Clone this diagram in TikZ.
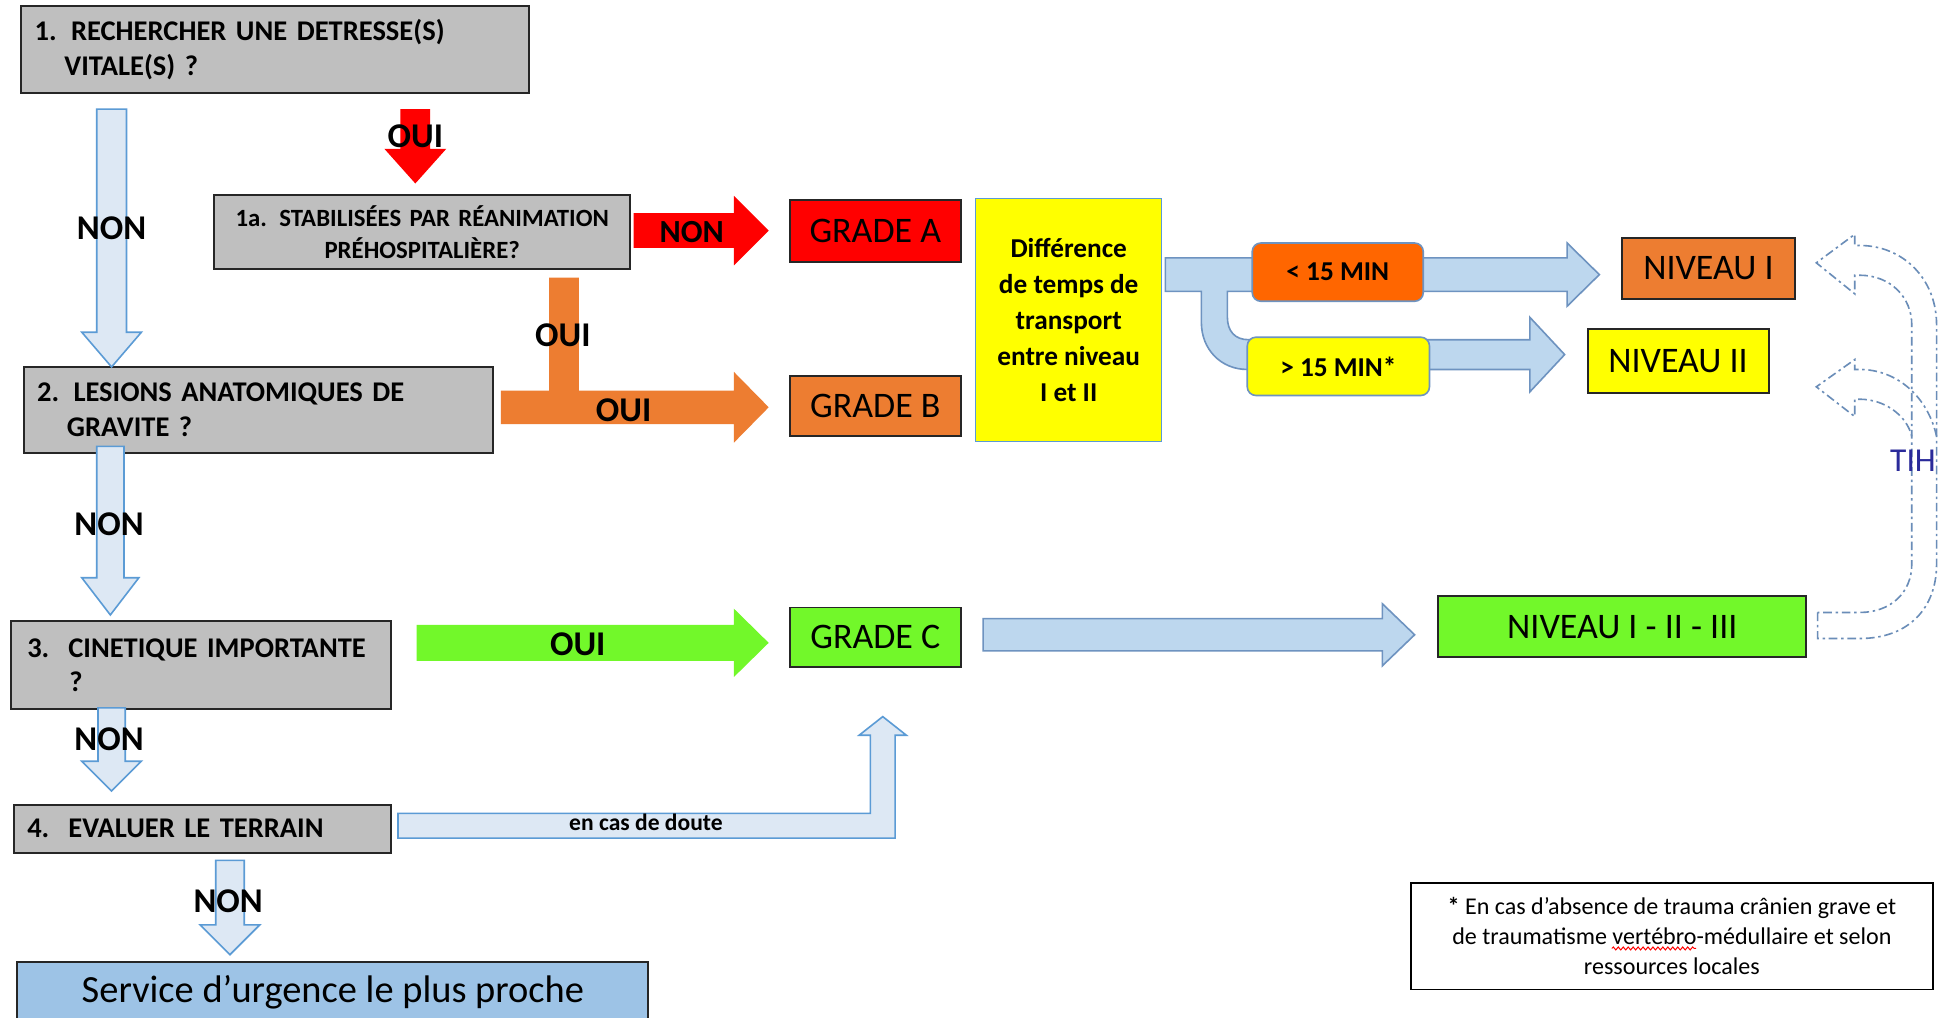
\documentclass[tikz,border=0pt]{standalone}
\usepackage{fontspec}
\setmainfont{Carlito}
\usetikzlibrary{decorations.pathmorphing}
\definecolor{boxgrey}{HTML}{BFBFBF}
\definecolor{edge}{HTML}{262626}
\definecolor{redA}{HTML}{FF0000}
\definecolor{orangeB}{HTML}{ED7D31}
\definecolor{greenC}{HTML}{72F82A}
\definecolor{yel}{HTML}{FFFF00}
\definecolor{orangeD}{HTML}{FF6600}
\definecolor{paleblue}{HTML}{DDE8F4}
\definecolor{paleedge}{HTML}{5B9BD5}
\definecolor{midblue}{HTML}{BDD7EE}
\definecolor{midedge}{HTML}{6E93C0}
\definecolor{svcblue}{HTML}{9DC3E6}
\definecolor{tihc}{HTML}{6A8DB8}
\definecolor{navy}{HTML}{2A2A9A}
% horizontal block arrow: style, x0, x1(tip), yc, shaft half, head half, head length
\newcommand\harrow[7]{\path[#1] (#2,#4-#5) -- (#3-#7,#4-#5) -- (#3-#7,#4-#6) -- (#3,#4) -- (#3-#7,#4+#6) -- (#3-#7,#4+#5) -- (#2,#4+#5) -- cycle;}
% vertical block arrow (downwards): style, xc, y0, y1(tip), shaft half, head half, head length
\newcommand\varrow[7]{\path[#1] (#2-#5,#3) -- (#2-#5,#4-#7) -- (#2-#6,#4-#7) -- (#2,#4) -- (#2+#6,#4-#7) -- (#2+#5,#4-#7) -- (#2+#5,#3) -- cycle;}
\tikzset{
  paleArrow/.style={fill=paleblue, draw=paleedge, line width=1.3pt},
  midArrow/.style={fill=midblue, draw=midedge, line width=1.3pt},
  redArrow/.style={fill=redA},
  orangeArrow/.style={fill=orangeB},
  greenArrow/.style={fill=greenC},
  greybox/.style={draw=edge, fill=boxgrey, line width=1.6pt, inner xsep=11pt, inner ysep=0pt, align=left, font=\fontsize{23}{28}\selectfont\bfseries},
  gradebox/.style={draw=edge, line width=1.6pt, inner sep=0pt, font=\fontsize{29}{32}\selectfont},
  roundbox/.style={draw=midedge, line width=1.3pt, rounded corners=7pt, inner sep=0pt, font=\fontsize{22}{24}\selectfont\bfseries},
  lbl/.style={inner sep=0pt, font=\fontsize{28}{30}\selectfont\bfseries},
  tihline/.style={draw=tihc, line width=1.3pt, dash pattern=on 7pt off 3pt on 2pt off 3pt},
}
\begin{document}
\begin{tikzpicture}[x=1pt,y=-1pt]
\fill[white] (0,0) rectangle (1568,821);
\useasboundingbox (0,0) rectangle (1568,821);

% ---------- boxes (left column) ----------
\node[greybox, text width=388pt, minimum height=70pt] (b1) at (222,40) {1. RECHERCHER UNE DETRESSE(S)\\\hspace*{24pt}VITALE(S) ?};
\node[greybox, align=center, text width=313pt, minimum height=60pt, font=\fontsize{20}{26}\selectfont\bfseries] (b1a) at (340.5,187) {1a. STABILISÉES PAR RÉANIMATION\\PRÉHOSPITALIÈRE?};
\node[greybox, text width=357pt, minimum height=69pt] (b2) at (208.5,330.5) {2. LESIONS ANATOMIQUES DE\\\hspace*{24pt}GRAVITE ?};
\node[greybox, inner xsep=13pt, text width=280pt, minimum height=71pt] (b3) at (162,536.5) {3.\ \ CINETIQUE IMPORTANTE\\\hspace*{34pt}?};
\node[greybox, text width=282pt, minimum height=39pt] (b4) at (163,668.5) {4.\ \ EVALUER LE TERRAIN};
\node[draw=edge, fill=svcblue, line width=1.6pt, minimum width=509pt, minimum height=48pt, inner sep=0pt, font=\fontsize{31}{33}\selectfont] (svc) at (268.5,800) {Service d’urgence le plus proche};

% ---------- arrows (left part) ----------
\varrow{paleArrow}{90}{88}{296}{12}{24}{28}
\varrow{redArrow}{335}{88}{148}{12}{25}{28}
\harrow{redArrow}{511}{620}{186}{14}{28}{28}
\path[orangeArrow] (443,224) -- (467,224) -- (467,315) -- (592,315) -- (592,300) -- (620,328.5) -- (592,357) -- (592,342) -- (404,342) -- (404,315) -- (443,315) -- cycle;
\varrow{paleArrow}{89}{360}{496}{11}{23}{30}
\harrow{greenArrow}{336}{620}{518.5}{14.5}{27.5}{28}
\varrow{paleArrow}{90}{571}{638}{11}{24}{24}
\path[paleArrow] (321,656) -- (702,656) -- (702,593) -- (693,593) -- (712,578) -- (731,593) -- (722,593) -- (722,676) -- (321,676) -- cycle;
\varrow{paleArrow}{185.5}{694}{770}{11.5}{24}{24}

% ---------- grades ----------
\node[gradebox, fill=redA, minimum width=138pt, minimum height=50pt] (ga) at (706,186) {GRADE A};
\node[gradebox, fill=orangeB, minimum width=138pt, minimum height=49pt] (gb) at (706,327.5) {GRADE B};
\node[gradebox, fill=greenC, minimum width=138pt, minimum height=48pt] (gc) at (706,514) {GRADE C};

\node[draw=paleedge, fill=yel, line width=1pt, minimum width=150pt, minimum height=196pt, align=center, inner sep=0pt, font=\fontsize{22}{29}\selectfont\bfseries] (diff) at (862,258) {Différence\\de temps de\\transport\\entre niveau\\I et II};

% ---------- branching arrow ----------
\path[midArrow] (940,208) -- (1264,208) -- (1264,196) -- (1290,221.5) -- (1264,247) -- (1264,235) -- (990,235) -- (990,256)
  .. controls (990,267) and (996,274) .. (1007,274) -- (1234,274) -- (1234,256) -- (1262,286) -- (1234,316) -- (1234,298) -- (1006,298)
  .. controls (985,298) and (969,282) .. (969,260) -- (969,235) -- (940,235) -- cycle;
\node[roundbox, fill=orangeD, minimum width=138pt, minimum height=47pt] (lt15) at (1079,219.5) {< 15 MIN};
\node[roundbox, fill=yel, minimum width=147pt, minimum height=47pt] (gt15) at (1079.5,295.5) {> 15 MIN*};

\harrow{midArrow}{793}{1141}{512}{13}{25}{26}

% ---------- niveaux ----------
\node[gradebox, fill=orangeB, minimum width=139pt, minimum height=49pt] (n1) at (1378,216.5) {NIVEAU I};
\node[gradebox, fill=yel, minimum width=146pt, minimum height=52pt] (n2) at (1353.5,291) {NIVEAU II};
\node[gradebox, fill=greenC, minimum width=297pt, minimum height=49pt] (n123) at (1308.5,505.5) {NIVEAU I - II - III};

% ---------- TIH dashed curved arrows ----------
\path[tihline] (1466,494) -- (1466,515) -- (1500,515) .. controls (1540,515) and (1562,490) .. (1562,455) -- (1562,262)
  .. controls (1562,225) and (1535,198) .. (1500,198) -- (1496,198) -- (1496,189) -- (1465,212) -- (1496,237) -- (1496,222) -- (1500,222)
  .. controls (1525,222) and (1542,240) .. (1542,262) -- (1542,455) .. controls (1542,478) and (1525,494) .. (1500,494) -- cycle;
\path[tihline] (1562,352) .. controls (1555,320) and (1530,298) .. (1500,298) -- (1496,298) -- (1496,290) -- (1465,312) -- (1496,336) -- (1496,322) -- (1500,322) .. controls (1520,322) and (1538,335) .. (1542,352);
\node[text=navy, inner sep=0pt, font=\fontsize{27}{28}\selectfont] (tih) at (1543,372) {TIH};

% ---------- labels ----------
\node[lbl] (l1) at (90,184) {NON};
\node[lbl] (l2) at (335,110) {OUI};
\node[lbl, font=\fontsize{26}{28}\selectfont\bfseries] (l3) at (558,187) {NON};
\node[lbl] (l4) at (454,270) {OUI};
\node[lbl] (l5) at (503,331) {OUI};
\node[lbl] (l6) at (88,423) {NON};
\node[lbl] (l7) at (466,520) {OUI};
\node[lbl] (l8) at (88,596) {NON};
\node[lbl] (l9) at (184,727) {NON};
\node[inner sep=0pt, font=\fontsize{19}{20}\selectfont\bfseries] (l10) at (521,663) {en cas de doute};

% ---------- footnote ----------
\node[draw=black, line width=1.3pt, fill=white, minimum width=421pt, minimum height=86pt, align=center, inner sep=0pt, font=\fontsize{19.4}{24.5}\selectfont] (note) at (1348.5,755) {\textbf{*} En cas d’absence de trauma crânien grave et\\de traumatisme vertébro-médullaire et selon\\ressources locales};
\draw[red, line width=0.8pt, decorate, decoration={snake, amplitude=1.2pt, segment length=4pt}] (1300,765) -- (1368,765);
\end{tikzpicture}
\end{document}
